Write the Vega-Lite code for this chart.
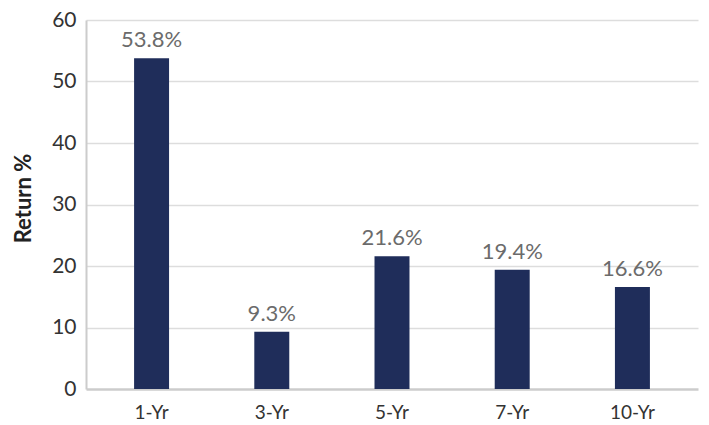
{
  "$schema": "https://vega.github.io/schema/vega-lite/v6.json",
  "autosize": "none",
  "width": 623,
  "height": 369,
  "padding": {"left": 86, "top": 20, "right": 0, "bottom": 36},
  "background": "white",
  "config": {"view": {"stroke": null}, "font": "Lato"},
  "data": {"values": [
    {"period": "1-Yr", "ret": 53.8, "label": "53.8%"},
    {"period": "3-Yr", "ret": 9.3, "label": "9.3%"},
    {"period": "5-Yr", "ret": 21.6, "label": "21.6%"},
    {"period": "7-Yr", "ret": 19.4, "label": "19.4%"},
    {"period": "10-Yr", "ret": 16.6, "label": "16.6%"}
  ]},
  "encoding": {
    "x": {"field": "period", "type": "nominal", "sort": null,
      "scale": {"range": [0, 612], "paddingInner": 0.709, "paddingOuter": 0.4},
      "axis": {"title": null, "labelAngle": 0, "labelFontSize": 19, "labelColor": "#333333", "labelPadding": 14, "ticks": false, "domain": false}},
    "y": {"field": "ret", "type": "quantitative",
      "scale": {"domain": [0, 60]},
      "axis": {"title": "Return %", "titleFontSize": 22, "titleFontWeight": "bold", "titleColor": "#222222", "titlePadding": 16, "titleY": 178,
        "values": [0, 10, 20, 30, 40, 50, 60], "labelFontSize": 21, "labelColor": "#333333", "labelPadding": 10, "ticks": false,
        "domainColor": "#cccccc", "domainWidth": 2, "gridColor": {"condition": {"test": "datum.value === 0", "value": "#cccccc"}, "value": "#dddddd"},
        "gridWidth": {"condition": {"test": "datum.value === 0", "value": 2.5}, "value": 1.5}}}
  },
  "layer": [
    {"mark": {"type": "bar", "color": "#1f2d5a"}},
    {"mark": {"type": "text", "baseline": "bottom", "dy": -6, "fontSize": 22, "color": "#6b6b6b"},
     "encoding": {"text": {"field": "label"}}}
  ]
}
